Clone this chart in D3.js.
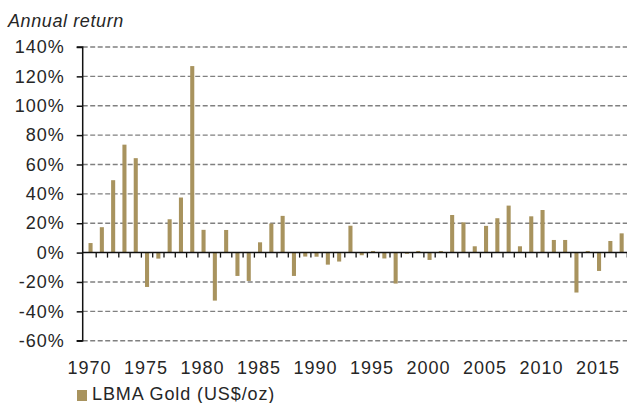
<!DOCTYPE html>
<html>
<head>
<meta charset="utf-8">
<script src="https://cdn.jsdelivr.net/npm/d3@7"></script>
<style>
  html, body { margin: 0; padding: 0; background: #fff; }
  svg { display: block; }
  text { font-family: "Liberation Sans", Arial, sans-serif; fill: #262626; }
</style>
</head>
<body>
<svg id="chart" width="627" height="403"></svg>
<script>
const years = d3.range(1970, 2018);
const returns = [
  6.5, 17.3, 49.3, 73.5, 64.3, -23.4, -4.1, 22.7, 37.5, 127.0,
  15.5, -32.7, 15.4, -15.9, -19.3, 7.0, 19.8, 25.0, -15.9, -2.7,
  -2.8, -8.2, -6.1, 18.3, -1.8, 1.1, -4.0, -21.1, -0.8, 1.1,
  -5.0, 1.1, 25.6, 20.6, 4.3, 18.2, 23.4, 32.0, 4.3, 24.7,
  29.0, 8.6, 8.6, -27.2, 1.1, -12.5, 7.9, 13.1
];
const yTicks = [-60, -40, -20, 0, 20, 40, 60, 80, 100, 120, 140];
const xLabelYears = [1970, 1975, 1980, 1985, 1990, 1995, 2000, 2005, 2010, 2015];
const seriesName = "LBMA Gold (US$/oz)";
const yTitle = "Annual return";

const svg = d3.select("#chart");
const axisX = 82.7, plotRight = 627.5;
const barColor = "#a8935e";
const ls = "1px";

const x = d3.scaleBand().domain(years).range([84.9, 627.3]).paddingInner(0.64).paddingOuter(0.32);
const y = d3.scaleLinear().domain([-60, 140]).range([340.7, 47]);

// gridlines
svg.append("g").selectAll("line").data(yTicks.filter(d => d !== 0)).join("line")
  .attr("x1", axisX).attr("x2", plotRight)
  .attr("y1", d => y(d)).attr("y2", d => y(d))
  .attr("stroke", "#808080").attr("stroke-width", 1.4)
  .attr("stroke-dasharray", "5,2.5");

// bars
svg.append("g").selectAll("rect").data(years).join("rect")
  .attr("x", d => x(d))
  .attr("width", x.bandwidth())
  .attr("y", (d, i) => Math.min(y(returns[i]), y(0)))
  .attr("height", (d, i) => Math.abs(y(returns[i]) - y(0)))
  .attr("fill", barColor);

// y axis
const yAxis = d3.axisLeft(y).tickValues(yTicks).tickFormat(d => d + "%").tickSize(6).tickPadding(12);
const gy = svg.append("g").attr("transform", `translate(${axisX},0)`).call(yAxis);
gy.select(".domain").attr("stroke", "#111").attr("stroke-width", 1.5).attr("d", `M-6,${y(140)}H0V${y(-60)}H-6`);
gy.selectAll(".tick line").attr("stroke", "#111").attr("stroke-width", 1.5);
gy.selectAll(".tick text").style("font-size", "18px").style("letter-spacing", ls)
  .style("font-family", "Liberation Sans, Arial, sans-serif").attr("fill", "#262626");

// zero line with tick marks at band boundaries
const boundaries = years.slice(1).map(d => x(d) - x.step() * x.paddingInner() / 2);
boundaries.push(x(2017) + x.bandwidth() + x.step() * x.paddingInner() / 2);
svg.append("g").selectAll("line").data(boundaries).join("line")
  .attr("x1", d => d).attr("x2", d => d)
  .attr("y1", y(0)).attr("y2", y(0) + 5)
  .attr("stroke", "#111").attr("stroke-width", 1.3);
svg.append("line").attr("x1", axisX).attr("x2", plotRight)
  .attr("y1", y(0)).attr("y2", y(0)).attr("stroke", "#111").attr("stroke-width", 1.5);

// x labels
svg.append("g").selectAll("text").data(xLabelYears).join("text")
  .attr("x", d => x(d) + x.bandwidth() / 2 - 1)
  .attr("y", 374)
  .attr("text-anchor", "middle")
  .style("font-size", "18px").style("letter-spacing", ls)
  .text(d => d);

// y title
svg.append("text").attr("x", 8).attr("y", 26.5)
  .style("font-size", "18px").style("font-style", "italic").style("letter-spacing", "0.6px").text(yTitle);

// legend
svg.append("rect").attr("x", 77).attr("y", 390).attr("width", 10).attr("height", 11).attr("fill", barColor);
svg.append("text").attr("x", 92).attr("y", 400).style("font-size", "18px").style("letter-spacing", "0.9px").text(seriesName);
</script>
</body>
</html>
